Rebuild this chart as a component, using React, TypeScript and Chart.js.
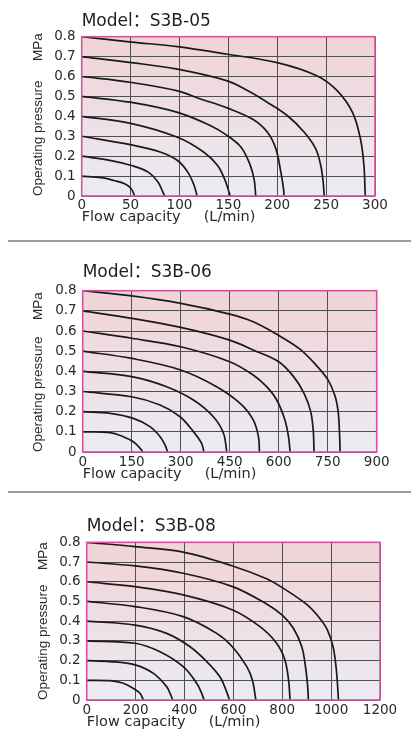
import React, { useEffect, useRef } from 'react';
import { Chart, registerables } from 'chart.js';

Chart.register(...registerables);

type Pt = [number, number];

// ---------- Model S3B-05 (flow L/min, pressure MPa) ----------
const S3B05_TITLE = 'Model：S3B-05';
const S3B05_X_TICKS = [0, 50, 100, 150, 200, 250, 300];
const S3B05_P01: Pt[] = [[0, 0.1], [20, 0.092], [33, 0.078], [44, 0.062], [50, 0.04], [53, 0.015], [54, 0]];
const S3B05_P02: Pt[] = [[0, 0.2], [30, 0.178], [51, 0.153], [68, 0.12], [78, 0.07], [83, 0.02], [85, 0]];
const S3B05_P03: Pt[] = [[0, 0.3], [51, 0.257], [81, 0.22], [98, 0.178], [108.5, 0.12], [115, 0.053], [118, 0]];
const S3B05_P04: Pt[] = [[0, 0.4], [50, 0.365], [98, 0.295], [125, 0.22], [139, 0.153], [146, 0.087], [150, 0.03], [152, 0]];
const S3B05_P05: Pt[] = [[0, 0.5], [51, 0.47], [98, 0.42], [132, 0.353], [149, 0.303], [163, 0.245], [172, 0.16], [176.5, 0.08], [178, 0]];
const S3B05_P06: Pt[] = [[0, 0.6], [51, 0.57], [98, 0.528], [120, 0.49], [150, 0.44], [175, 0.385], [190, 0.32], [198.6, 0.237], [203.7, 0.12], [206.4, 0.037], [207, 0]];
const S3B05_P07: Pt[] = [[0, 0.7], [51, 0.67], [98, 0.637], [149, 0.578], [170, 0.528], [190, 0.47], [210.5, 0.403], [227.6, 0.32], [239.4, 0.237], [244.5, 0.153], [247, 0.07], [248, 0]];
const S3B05_P08: Pt[] = [[0, 0.8], [51, 0.773], [98, 0.75], [149, 0.712], [200, 0.67], [241, 0.603], [261.5, 0.528], [277, 0.42], [285, 0.29], [288.7, 0.153], [290, 0]];

// ---------- Model S3B-06 ----------
const S3B06_TITLE = 'Model：S3B-06';
const S3B06_X_TICKS = [0, 150, 300, 450, 600, 750, 900];
const S3B06_P01: Pt[] = [[0, 0.1], [84, 0.096], [124, 0.076], [155, 0.051], [176, 0.018], [184, 0]];
const S3B06_P02: Pt[] = [[0, 0.2], [84, 0.192], [155, 0.167], [206, 0.126], [237, 0.076], [252, 0.035], [260, 0]];
const S3B06_P03: Pt[] = [[0, 0.3], [150, 0.274], [237, 0.233], [298, 0.175], [339, 0.101], [364, 0.043], [371, 0]];
const S3B06_P04: Pt[] = [[0, 0.4], [150, 0.374], [257, 0.324], [339, 0.258], [400, 0.175], [431, 0.093], [441, 0]];
const S3B06_P05: Pt[] = [[0, 0.5], [150, 0.464], [300, 0.407], [410, 0.324], [482, 0.241], [522, 0.159], [538, 0.076], [541, 0]];
const S3B06_P06: Pt[] = [[0, 0.6], [150, 0.564], [300, 0.522], [450, 0.448], [522, 0.382], [563, 0.324], [594, 0.258], [619, 0.159], [630, 0.076], [635, 0]];
const S3B06_P07: Pt[] = [[0, 0.7], [150, 0.663], [300, 0.618], [450, 0.555], [522, 0.506], [598, 0.45], [645, 0.375], [678, 0.29], [698, 0.2], [706, 0.1], [708, 0]];
const S3B06_P08: Pt[] = [[0, 0.8], [150, 0.774], [300, 0.737], [450, 0.684], [522, 0.646], [598, 0.58], [665, 0.51], [715, 0.43], [750, 0.36], [772, 0.28], [782, 0.2], [786, 0.1], [788, 0]];

// ---------- Model S3B-08 ----------
const S3B08_TITLE = 'Model：S3B-08';
const S3B08_X_TICKS = [0, 200, 400, 600, 800, 1000, 1200];
const S3B08_P01: Pt[] = [[0, 0.1], [95, 0.098], [150, 0.085], [191, 0.059], [218, 0.034], [232, 0]];
const S3B08_P02: Pt[] = [[0, 0.2], [95, 0.195], [198, 0.178], [273, 0.135], [327, 0.068], [344, 0.025], [352, 0]];
const S3B08_P03: Pt[] = [[0, 0.3], [198, 0.288], [300, 0.245], [395, 0.169], [450, 0.085], [470, 0.035], [480, 0]];
const S3B08_P04: Pt[] = [[0, 0.4], [198, 0.38], [327, 0.338], [423, 0.27], [491, 0.195], [545, 0.118], [570, 0.05], [584, 0]];
const S3B08_P05: Pt[] = [[0, 0.5], [198, 0.474], [395, 0.423], [532, 0.338], [596, 0.27], [655, 0.169], [678, 0.1], [692, 0]];
const S3B08_P06: Pt[] = [[0, 0.6], [198, 0.575], [395, 0.533], [597, 0.457], [709, 0.372], [777, 0.288], [811, 0.203], [826, 0.1], [832, 0]];
const S3B08_P07: Pt[] = [[0, 0.7], [198, 0.68], [395, 0.643], [597, 0.575], [736, 0.487], [800, 0.43], [845, 0.365], [880, 0.27], [895, 0.169], [904, 0.07], [907, 0]];
const S3B08_P08: Pt[] = [[0, 0.8], [198, 0.778], [395, 0.75], [597, 0.68], [736, 0.615], [800, 0.57], [900, 0.485], [950, 0.42], [985, 0.355], [1008, 0.27], [1020, 0.17], [1026, 0.08], [1030, 0]];

const Y_TICKS = [0, 0.1, 0.2, 0.3, 0.4, 0.5, 0.6, 0.7, 0.8];
const Y_TITLE = 'Operating pressure';
const Y_UNIT = 'MPa';
const X_TITLE = 'Flow capacity     (L/min)';

const FONT = '"DejaVu Sans", "Noto Sans CJK SC", sans-serif';
const NARROW = '"Liberation Sans", Arial, sans-serif';

interface Panel {
  title: string;
  xTicks: number[];
  curves: Pt[][];
  // layout (page pixels)
  top: number;
  height: number;
  yWidth: number;
  padRight: number;
  titlePadTop: number;
  titlePadBottom: number;
  xHeight: number;
  xTitlePadBottom: number;
  yTitlePadTop: number;
  xTickPad: number;
  unitOffset: number;
}

const PANELS: Panel[] = [
  {
    title: S3B05_TITLE, xTicks: S3B05_X_TICKS,
    curves: [S3B05_P01, S3B05_P02, S3B05_P03, S3B05_P04, S3B05_P05, S3B05_P06, S3B05_P07, S3B05_P08],
    top: 0, height: 240, yWidth: 81.7, padRight: 36, titlePadTop: 11.8, titlePadBottom: 4.5,
    xHeight: 44, xTitlePadBottom: 14, yTitlePadTop: 29.7, xTickPad: 1, unitOffset: -3.5,
  },
  {
    title: S3B06_TITLE, xTicks: S3B06_X_TICKS,
    curves: [S3B06_P01, S3B06_P02, S3B06_P03, S3B06_P04, S3B06_P05, S3B06_P06, S3B06_P07, S3B06_P08],
    top: 242, height: 248, yWidth: 82.7, padRight: 34.3, titlePadTop: 20.8, titlePadBottom: 7.5,
    xHeight: 38, xTitlePadBottom: 7.2, yTitlePadTop: 29.7, xTickPad: 2, unitOffset: 1.5,
  },
  {
    title: S3B08_TITLE, xTicks: S3B08_X_TICKS,
    curves: [S3B08_P01, S3B08_P02, S3B08_P03, S3B08_P04, S3B08_P05, S3B08_P06, S3B08_P07, S3B08_P08],
    top: 494, height: 237, yWidth: 86.7, padRight: 31, titlePadTop: 22.8, titlePadBottom: 5.1,
    xHeight: 31, xTitlePadBottom: 0.5, yTitlePadTop: 35.2, xTickPad: 2, unitOffset: 0,
  },
];

const decorPlugin = {
  id: 'decor',
  beforeDraw(chart: any) {
    const { ctx, chartArea } = chart;
    if (!chartArea) return;
    const g = ctx.createLinearGradient(0, chartArea.top, 0, chartArea.bottom);
    g.addColorStop(0, '#f0d3d6');
    g.addColorStop(1, '#ecebf3');
    ctx.save();
    ctx.fillStyle = g;
    ctx.fillRect(chartArea.left, chartArea.top, chartArea.right - chartArea.left, chartArea.bottom - chartArea.top);
    ctx.restore();
  },
  afterDatasetsDraw(chart: any) {
    const { ctx, chartArea } = chart;
    ctx.save();
    ctx.strokeStyle = '#d4549c';
    ctx.lineWidth = 1.6;
    ctx.strokeRect(chartArea.left, chartArea.top, chartArea.right - chartArea.left, chartArea.bottom - chartArea.top);
    ctx.restore();
  },
  afterDraw(chart: any, _args: any, opts: any) {
    const { ctx, chartArea } = chart;
    const s = chart.scales.y;
    const x = s.left + opts.padTop + (13.5 * 1.2) / 2;
    ctx.save();
    ctx.translate(x, chartArea.top + opts.offset);
    ctx.rotate(-Math.PI / 2);
    ctx.font = `13.5px ${NARROW}`;
    ctx.fillStyle = '#2a2a2a';
    ctx.textAlign = 'right';
    ctx.textBaseline = 'middle';
    ctx.fillText(Y_UNIT, 0, 0);
    ctx.restore();
  },
};

function ChartPanel({ p }: { p: Panel }) {
  const ref = useRef<HTMLCanvasElement | null>(null);
  useEffect(() => {
    if (!ref.current) return;
    const xMax = p.xTicks[p.xTicks.length - 1];
    const xStep = p.xTicks[1] - p.xTicks[0];
    const chart = new Chart(ref.current, {
      type: 'scatter',
      data: {
        datasets: p.curves.map((c, i) => ({
          label: `${Y_TICKS[i + 1]} MPa`,
          data: c.map(([x, y]) => ({ x, y })),
          showLine: true,
          borderColor: '#1a1a1a',
          borderWidth: 1.7,
          pointRadius: 0,
          pointHoverRadius: 0,
          tension: 0.35,
          fill: false,
        })),
      },
      options: {
        animation: false,
        responsive: true,
        maintainAspectRatio: false,
        events: [],
        layout: { padding: { left: 0, right: p.padRight, top: 0, bottom: 0 } },
        plugins: {
          legend: { display: false },
          tooltip: { enabled: false },
          title: {
            display: true,
            text: p.title,
            align: 'start',
            fullSize: false,
            color: '#1e1e1e',
            font: { family: FONT, size: 17, weight: 'normal' },
            padding: { top: p.titlePadTop, bottom: p.titlePadBottom },
          },
          decor: { padTop: p.yTitlePadTop, offset: p.unitOffset },
        } as any,
        scales: {
          x: {
            type: 'linear',
            min: 0,
            max: xMax,
            afterFit: (s: any) => { s.height = p.xHeight; },
            ticks: {
              stepSize: xStep,
              autoSkip: false,
              maxRotation: 0,
              padding: p.xTickPad,
              color: '#2a2a2a',
              font: { family: FONT, size: 13.5 },
              callback: (v: any) => String(v),
            },
            afterBuildTicks: (s: any) => { s.ticks = p.xTicks.map((v) => ({ value: v })); },
            grid: { color: '#505050', lineWidth: 1, drawTicks: false },
            border: { display: false },
            title: {
              display: true,
              text: X_TITLE,
              align: 'start',
              color: '#2a2a2a',
              font: { family: FONT, size: 14.5 },
              padding: { top: 0, bottom: p.xTitlePadBottom },
            },
          },
          y: {
            type: 'linear',
            min: 0,
            max: 0.8,
            afterFit: (s: any) => { s.width = p.yWidth; },
            afterBuildTicks: (s: any) => { s.ticks = Y_TICKS.map((v) => ({ value: v })); },
            ticks: {
              stepSize: 0.1,
              padding: 6,
              color: '#2a2a2a',
              font: { family: FONT, size: 13.5 },
              callback: (v: any) => String(Math.round(Number(v) * 10) / 10),
            },
            grid: { color: '#505050', lineWidth: 1, drawTicks: false },
            border: { display: false },
            title: {
              display: true,
              text: Y_TITLE,
              align: 'start',
              color: '#2a2a2a',
              font: { family: NARROW, size: 13.5 },
              padding: { top: p.yTitlePadTop, bottom: 0 },
            },
          },
        },
      },
      plugins: [decorPlugin],
    } as any);
    return () => chart.destroy();
  }, [p]);
  return (
    <div style={{ position: 'absolute', left: 0, top: p.top, width: 411, height: p.height }}>
      <canvas ref={ref} />
    </div>
  );
}

export default function App() {
  return (
    <div style={{ position: 'absolute', left: 0, top: 0, width: 411, height: 731, background: '#fff', overflow: 'hidden' }}>
      {PANELS.map((p) => (
        <ChartPanel key={p.title} p={p} />
      ))}
      <div style={{ position: 'absolute', left: 8, top: 240, width: 403, height: 2, background: '#9c9c9c' }} />
      <div style={{ position: 'absolute', left: 8, top: 491, width: 403, height: 2, background: '#9c9c9c' }} />
    </div>
  );
}
